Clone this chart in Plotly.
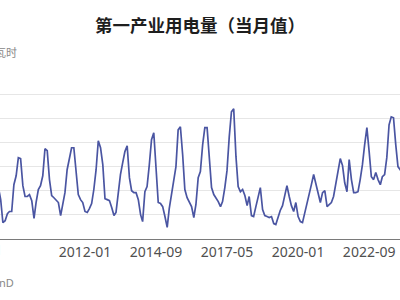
import plotly.graph_objects as go
import pandas as pd

# Monthly data (亿千瓦时), 2008-09 .. 2023-12
start_month = "2008-09-01"
values = [
    60.5, 61.3, 56.3, 46.8,
    47.6, 50.5, 51.4, 51.4, 62.5, 66.2, 73.7, 73.3, 62.1, 57.6, 57.6, 58.4,   # 2009
    55.9, 48.5, 55.1, 60.5, 62.1, 66.2, 77.4, 76.6, 64.6, 58.0, 57.1, 55.9,   # 2010
    55.1, 49.7, 54.3, 59.2, 68.7, 73.7, 77.8, 77.8, 66.7, 58.4, 56.3, 55.1,   # 2011
    51.4, 51.0, 52.6, 54.7, 60.5, 68.7, 80.7, 77.8, 70.8, 56.7, 56.3, 55.9,   # 2012
    53.0, 49.7, 51.0, 60.5, 66.7, 71.6, 76.2, 78.6, 65.4, 60.0, 59.2, 59.2,   # 2013
    56.3, 50.1, 47.2, 59.6, 61.7, 70.8, 81.1, 84.0, 66.7, 55.1, 54.7, 53.4,   # 2014
    49.3, 44.8, 52.6, 58.0, 62.9, 70.0, 85.2, 86.5, 74.9, 60.5, 57.1, 55.1,   # 2015
    53.4, 48.9, 54.3, 65.4, 67.9, 79.0, 86.1, 86.1, 72.0, 61.3, 58.4, 57.1,   # 2016
    55.5, 53.4, 55.5, 61.3, 68.3, 82.4, 92.7, 93.9, 74.1, 61.7, 59.6, 60.5,   # 2017
    58.0, 53.8, 57.6, 49.7, 49.3, 53.4, 58.0, 61.3, 52.2, 49.7, 49.3, 48.9,   # 2018
    49.3, 46.4, 46.0, 49.3, 51.8, 53.8, 58.4, 62.1, 57.6, 53.8, 51.4, 55.1,   # 2019
    49.3, 47.2, 46.8, 50.5, 54.3, 58.4, 62.5, 66.7, 62.9, 58.0, 55.1, 59.2,   # 2020
    60.0, 53.4, 54.3, 55.1, 57.6, 63.3, 69.5, 73.3, 70.4, 63.3, 59.6, 72.9,   # 2021
    64.6, 59.2, 59.2, 59.6, 64.6, 70.8, 79.0, 86.1, 76.2, 65.8, 64.6, 67.5,   # 2022
    64.6, 62.5, 65.8, 66.7, 73.7, 87.3, 90.6, 90.2, 79.0, 70.0, 68.7, 66.7,   # 2023
]
dates = pd.date_range(start_month, periods=len(values), freq="MS")

tick_vals = ["2012-01-01", "2014-09-01", "2017-05-01", "2020-01-01", "2022-09-01"]
tick_text = ["2012-01", "2014-09", "2017-05", "2020-01", "2022-09"]
first_label = "2008-01"

title_text = "第一产业用电量（当月值）"
unit_text = "亿千瓦时"
source_text = "WinD"

fig = go.Figure()
fig.add_trace(go.Scatter(
    x=dates, y=values, mode="lines",
    line=dict(color="#4a55a2", width=1.7),
    hoverinfo="skip", showlegend=False,
))

fig.update_layout(
    width=400, height=300,
    margin=dict(l=0, r=0, t=70, b=60.5),
    paper_bgcolor="white", plot_bgcolor="white",
    title=dict(
        text="<b>" + title_text + "</b>",
        x=0.5, xanchor="center", y=1 - 26 / 300, yanchor="middle", yref="container",
        font=dict(family="Noto Sans CJK SC", size=17.5, color="#1e1e1e"),
    ),
    xaxis=dict(
        type="date",
        range=["2008-10-22 12:00", "2023-10-29"],
        tickmode="array", tickvals=tick_vals, ticktext=tick_text,
        showgrid=False, showline=True, linecolor="#7a7a7a", linewidth=1,
        ticks="", tickfont=dict(family="Noto Sans", size=14, color="#505050"),
        zeroline=False,
    ),
    yaxis=dict(
        range=[40, 110], dtick=10, tick0=40,
        showticklabels=False, showgrid=True, gridcolor="#e6e6e6", gridwidth=1,
        zeroline=False, showline=False, ticks="",
    ),
    annotations=[
        dict(text=unit_text, xref="paper", yref="paper", x=19 / 400, y=(300 - 52 - 60.5) / 169.5,
             xanchor="right", yanchor="middle", showarrow=False,
             font=dict(family="Noto Sans CJK SC", size=11, color="#888888")),
        dict(text=first_label, xref="paper", yref="paper", x=4.5 / 400, y=(300 - 250.5 - 60.5) / 169.5,
             xanchor="right", yanchor="middle", showarrow=False,
             font=dict(family="Noto Sans", size=14, color="#505050")),
        dict(text=source_text, xref="paper", yref="paper", x=15.5 / 400, y=(300 - 283 - 60.5) / 169.5,
             xanchor="right", yanchor="middle", showarrow=False,
             font=dict(family="Noto Sans", size=11, color="#888888")),
    ],
)

fig.write_html("out.html")
